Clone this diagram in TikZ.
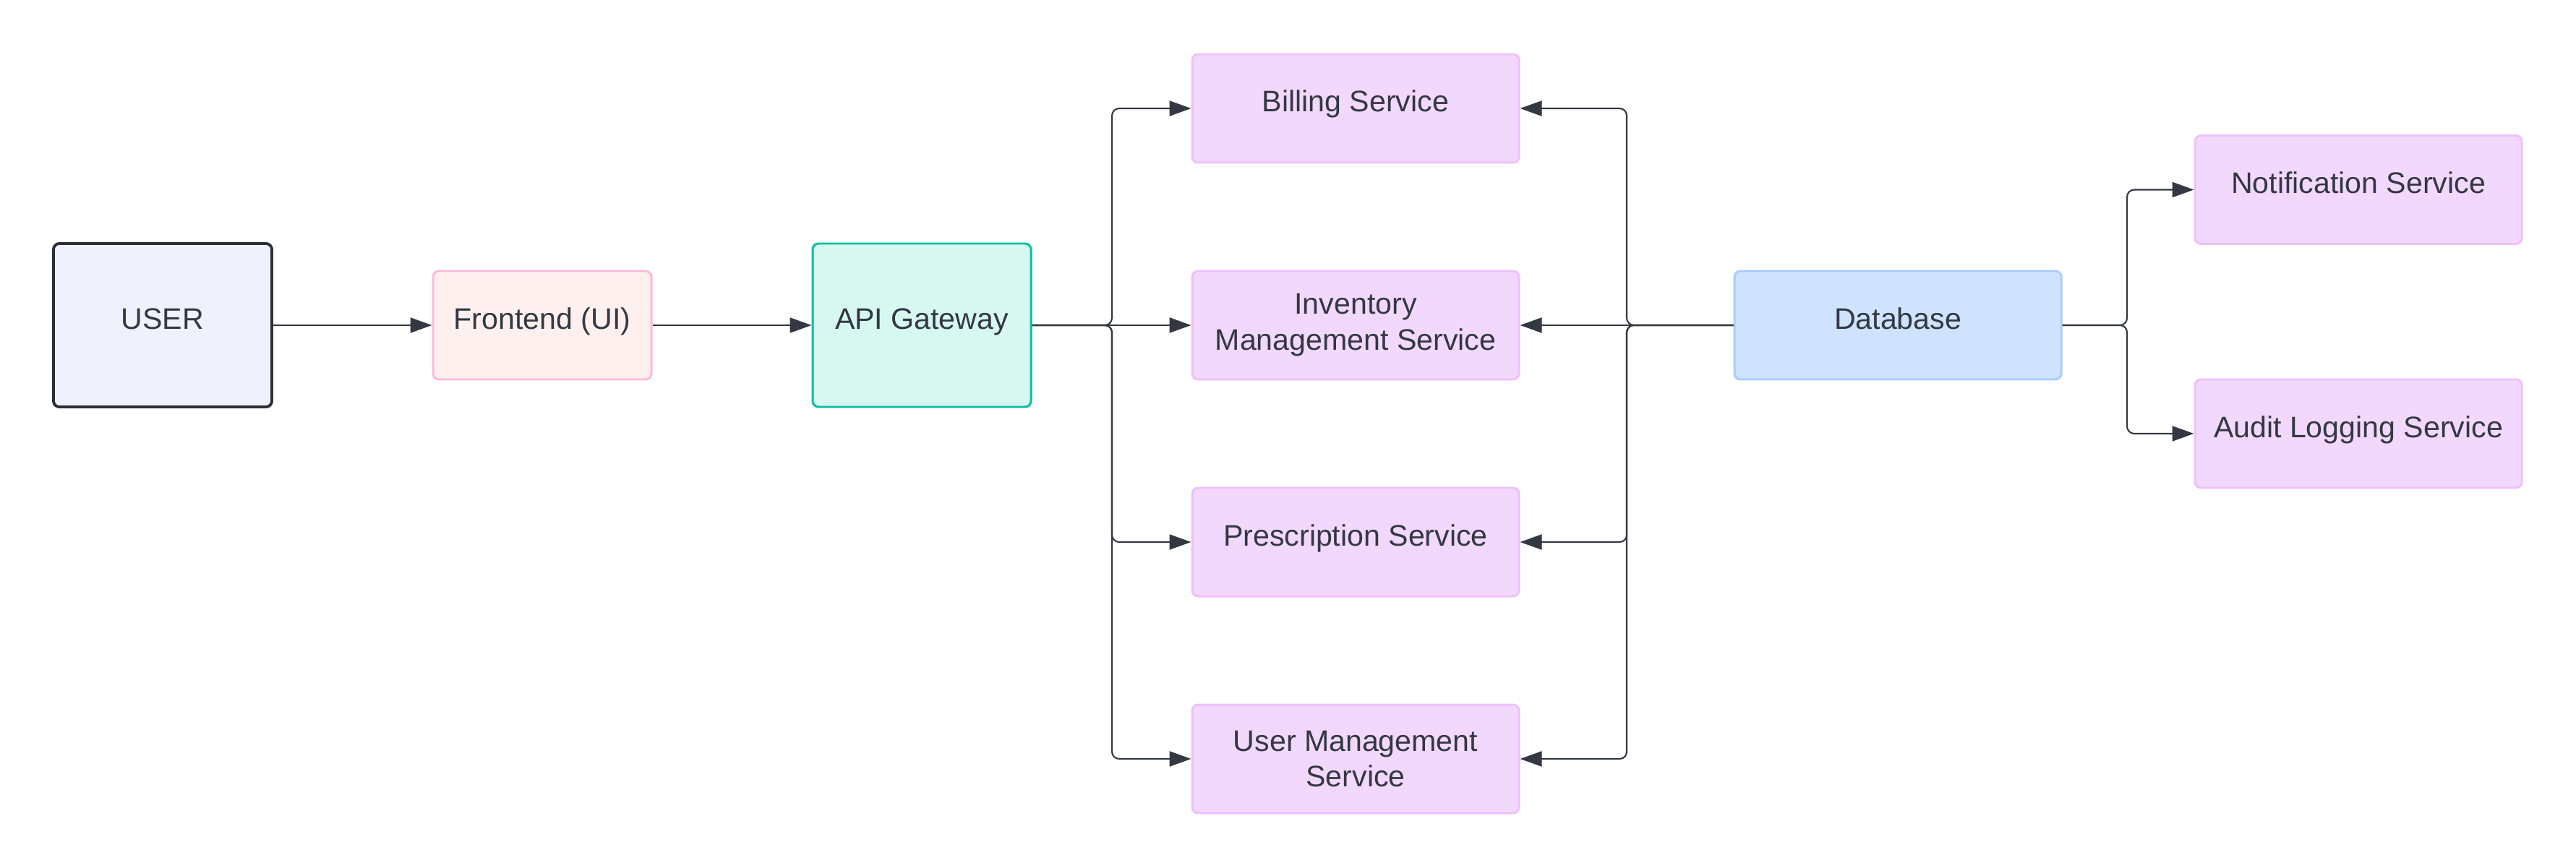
\documentclass[tikz,border=0pt]{standalone}
\usepackage{fontspec}
\setmainfont{Liberation Sans}
\usepackage{tikz}
\usetikzlibrary{arrows.meta}

\definecolor{inkgray}{HTML}{333842}
\definecolor{userfill}{HTML}{F1F1FE}
\definecolor{userline}{HTML}{2B2F36}
\definecolor{frontfill}{HTML}{FFF0F0}
\definecolor{frontline}{HTML}{FFB8DA}
\definecolor{apifill}{HTML}{D7F8F1}
\definecolor{apiline}{HTML}{00BFA0}
\definecolor{svcfill}{HTML}{F3D8FE}
\definecolor{svcline}{HTML}{EEC0FA}
\definecolor{dbfill}{HTML}{CFE3FF}
\definecolor{dbline}{HTML}{A8CDFF}

\tikzset{
  box/.style={rectangle, rounded corners=2.3pt, line width=0.85pt, align=center,
    text=inkgray, font=\fontsize{11.7}{14.2}\selectfont, inner sep=2pt},
  oneline/.style={text height=0.3cm, text depth=0.2cm},
  smallbox/.style={box, minimum width=3.02cm, minimum height=1.5cm},
  tallbox/.style={box, minimum width=3.02cm, minimum height=2.26cm},
  widebox/.style={box, minimum width=4.52cm, minimum height=1.5cm},
  svc/.style={widebox, fill=svcfill, draw=svcline},
  conn/.style={draw=inkgray, line width=0.6pt, rounded corners=0.1cm,
    -{Triangle[length=0.3cm,width=0.21cm]}}
}

\begin{document}
\begin{tikzpicture}
        \useasboundingbox (0,0) rectangle (35.63,12);

        % Draw left chain
        \node[tallbox, oneline, fill=userfill, draw=userline, line width=1.1pt] (user) at (2.25,7.5) {USER};
        \node[smallbox, oneline, fill=frontfill, draw=frontline] (frontend) at (7.5,7.5) {Frontend (UI)};
        \node[tallbox, oneline, fill=apifill, draw=apiline] (gateway) at (12.75,7.5) {API Gateway};

        % Draw services
        \node[svc, oneline] (billing) at (18.75,10.5) {Billing Service};
        \node[svc] (inventory) at (18.75,7.5) {Inventory\\Management Service};
        \node[svc, oneline] (prescription) at (18.75,4.5) {Prescription Service};
        \node[svc] (usermgmt) at (18.75,1.5) {User Management\\Service};

        % Draw database and its consumers
        \node[widebox, oneline, fill=dbfill, draw=dbline] (database) at (26.25,7.5) {Database};
        \node[svc, oneline] (notification) at (32.62,9.375) {Notification Service};
        \node[svc, oneline] (audit) at (32.62,6.0) {Audit Logging Service};

        % Bus points
        \coordinate (leftbus) at (15.38,7.5);
        \coordinate (rightbus) at (22.50,7.5);
        \coordinate (dbbus) at (29.42,7.5);

        % Draw connectors
        \draw[conn] (user) -- (frontend);
        \draw[conn] (frontend) -- (gateway);

        \draw[conn] (gateway.east) -- (leftbus) |- (billing.west);
        \draw[conn] (gateway.east) -- (inventory.west);
        \draw[conn] (gateway.east) -- (leftbus) |- (prescription.west);
        \draw[conn] (gateway.east) -- (leftbus) |- (usermgmt.west);

        \draw[conn] (database.west) -- (rightbus) |- (billing.east);
        \draw[conn] (database.west) -- (inventory.east);
        \draw[conn] (database.west) -- (rightbus) |- (prescription.east);
        \draw[conn] (database.west) -- (rightbus) |- (usermgmt.east);

        \draw[conn] (database.east) -- (dbbus) |- (notification.west);
        \draw[conn] (database.east) -- (dbbus) |- (audit.west);

    \end{tikzpicture}
\end{document}
